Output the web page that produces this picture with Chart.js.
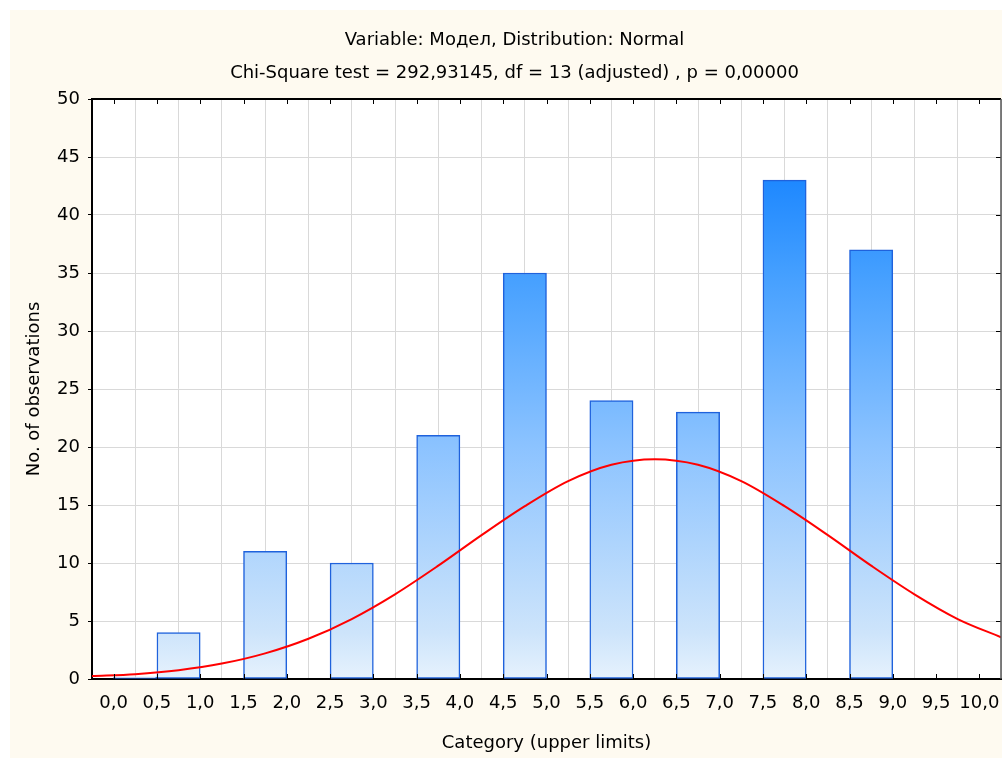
<!DOCTYPE html>
<html lang="en">
<head>
    <meta charset="UTF-8">
    <title>Variable: Модел, Distribution: Normal</title>
    <style>
        body {
            margin: 0;
            background: #ffffff;
        }
        .chart-container {
            width: 1002px;
            height: 758px;
        }
    </style>
</head>
<body>
<div class="chart-container">
    <canvas id="histogram"></canvas>
</div>

<script src="https://cdn.jsdelivr.net/npm/chart.js@4.4.0/dist/chart.umd.min.js"></script>
<script>
    // bins of width 0.5, centre of each bin and its count
    const binCenters = [0.25, 0.75, 1.75, 2.75, 3.75, 4.75, 5.75, 6.75, 7.75, 8.75];
    const counts = [0, 4, 11, 10, 21, 35, 24, 23, 43, 37];

    // expected normal curve
    const curveX = [-0.25, 0.25, 0.75, 1.25, 1.75, 2.25, 2.75, 3.25, 3.75, 4.25, 4.75,
        5.25, 5.75, 6.25, 6.75, 7.25, 7.75, 8.25, 8.75, 9.25, 9.75, 10.25];
    const curveY = [0.25, 0.42, 0.76, 1.33, 2.21, 3.47, 5.17, 7.3, 9.77, 12.4, 14.9,
        17.06, 18.47, 18.95, 18.47, 17.06, 14.9, 12.4, 9.77, 7.3, 5.17, 3.6];

    // category upper limits shown on the x axis
    const xTickValues = [0, 0.5, 1, 1.5, 2, 2.5, 3, 3.5, 4, 4.5, 5,
        5.5, 6, 6.5, 7, 7.5, 8, 8.5, 9, 9.5, 10];

    const titleText = 'Variable: Модел, Distribution: Normal';
    const subtitleText = 'Chi-Square test = 292,93145, df = 13 (adjusted) , p = 0,00000';
    const xTitle = 'Category (upper limits)';
    const yTitle = 'No. of observations';

    const colors = {
        panel: '#fefaf0',
        grid: '#d9d9d9',
        border: '#1f62dc',
        curve: '#ff0000'
    };

    function barGradient(context) {
        const area = context.chart.chartArea;
        if (!area) {
            return '#8cc3ff';
        }
        const g = context.chart.ctx.createLinearGradient(0, area.bottom, 0, area.top);
        g.addColorStop(0, '#e6f2fd');
        g.addColorStop(0.08, '#cde4fb');
        g.addColorStop(0.4, '#8cc3ff');
        g.addColorStop(0.7, '#449fff');
        g.addColorStop(0.86, '#1e88ff');
        g.addColorStop(1, '#0a7cff');
        return g;
    }

    function commaLabel(value) {
        return Number(value).toFixed(1).replace('.', ',');
    }

    // cream panel and white plot background
    const backgroundPlugin = {
        id: 'background',
        beforeDraw(chart) {
            const ctx = chart.ctx;
            const a = chart.chartArea;
            ctx.save();
            ctx.fillStyle = '#ffffff';
            ctx.fillRect(0, 0, chart.width, chart.height);
            ctx.fillStyle = colors.panel;
            ctx.fillRect(10, 10, chart.width - 10, chart.height - 10);
            ctx.fillStyle = '#ffffff';
            ctx.fillRect(a.left, a.top, a.right - a.left, a.bottom - a.top);
            ctx.restore();
        }
    };

    // frame on top and right, plus inward tick marks
    const framePlugin = {
        id: 'frame',
        afterDraw(chart) {
            const ctx = chart.ctx;
            const a = chart.chartArea;
            const x = chart.scales.x;
            const y = chart.scales.y;
            ctx.save();
            ctx.strokeStyle = '#000000';
            ctx.lineWidth = 2;
            ctx.beginPath();
            ctx.moveTo(a.left - 1, a.top);
            ctx.lineTo(a.right, a.top);
            ctx.stroke();

            ctx.lineWidth = 1;
            ctx.beginPath();
            for (const t of x.ticks) {
                const px = Math.round(x.getPixelForValue(t.value)) + 0.5;
                ctx.moveTo(px, a.top);
                ctx.lineTo(px, a.top + 5);
                ctx.moveTo(px, a.bottom);
                ctx.lineTo(px, a.bottom - 5);
            }
            for (const t of y.ticks) {
                const py = Math.round(y.getPixelForValue(t.value)) + 0.5;
                ctx.moveTo(a.right, py);
                ctx.lineTo(a.right - 5, py);
            }
            ctx.stroke();

            ctx.strokeStyle = '#555555';
            ctx.lineWidth = 1.5;
            ctx.beginPath();
            ctx.moveTo(a.right, a.top);
            ctx.lineTo(a.right, a.bottom);
            ctx.stroke();
            ctx.restore();
        }
    };

    function showChart() {
        const ctx = document.getElementById('histogram').getContext('2d');
        const fontFamily = '"DejaVu Sans", Verdana, sans-serif';

        new Chart(ctx, {
            data: {
                datasets: [{
                    type: 'line',
                    label: 'Normal',
                    data: curveX.map((v, i) => ({x: v, y: curveY[i]})),
                    borderColor: colors.curve,
                    borderWidth: 2,
                    pointRadius: 0,
                    fill: false,
                    cubicInterpolationMode: 'monotone',
                    order: 0
                }, {
                    type: 'bar',
                    label: 'Observations',
                    data: binCenters.map((v, i) => ({x: v, y: counts[i]})),
                    backgroundColor: barGradient,
                    borderColor: colors.border,
                    borderWidth: 1.5,
                    borderSkipped: false,
                    minBarLength: 2,
                    barPercentage: 1,
                    categoryPercentage: 1,
                    order: 1
                }]
            },
            options: {
                responsive: true,
                maintainAspectRatio: false,
                animation: false,
                layout: {
                    padding: {left: 28, right: 1, top: 0, bottom: 0}
                },
                plugins: {
                    legend: {display: false},
                    tooltip: {enabled: false},
                    title: {
                        display: true,
                        text: titleText,
                        color: '#000000',
                        font: {family: fontFamily, size: 18, weight: 'normal'},
                        padding: {top: 29.2, bottom: 2}
                    },
                    subtitle: {
                        display: true,
                        text: subtitleText,
                        color: '#000000',
                        font: {family: fontFamily, size: 18, weight: 'normal'},
                        padding: {top: 9.4, bottom: 15.2}
                    }
                },
                scales: {
                    x: {
                        type: 'linear',
                        min: -0.25,
                        max: 10.25,
                        offset: false,
                        afterBuildTicks(scale) {
                            scale.ticks = xTickValues.map(v => ({value: v}));
                        },
                        afterFit(scale) {
                            scale.height = 79;
                            scale.paddingLeft = 0;
                            scale.paddingRight = 0;
                        },
                        ticks: {
                            autoSkip: false,
                            maxRotation: 0,
                            padding: 13.7,
                            color: '#000000',
                            font: {family: fontFamily, size: 18},
                            callback: commaLabel
                        },
                        grid: {
                            color: colors.grid,
                            drawTicks: false
                        },
                        border: {color: '#000000', width: 2},
                        title: {
                            display: true,
                            text: xTitle,
                            color: '#000000',
                            font: {family: fontFamily, size: 18},
                            padding: {top: 0, bottom: 4.2}
                        }
                    },
                    y: {
                        min: 0,
                        max: 50,
                        afterFit(scale) {
                            scale.width = 64;
                        },
                        ticks: {
                            stepSize: 5,
                            padding: 8,
                            color: '#000000',
                            font: {family: fontFamily, size: 18}
                        },
                        grid: {
                            color: colors.grid,
                            tickColor: '#000000',
                            tickLength: 4
                        },
                        border: {color: '#000000', width: 2},
                        title: {
                            display: true,
                            text: yTitle,
                            color: '#000000',
                            font: {family: fontFamily, size: 18},
                            padding: {top: -4.8, bottom: 0}
                        }
                    }
                }
            },
            plugins: [backgroundPlugin, framePlugin]
        });
    }

    showChart();
</script>
</body>
</html>
